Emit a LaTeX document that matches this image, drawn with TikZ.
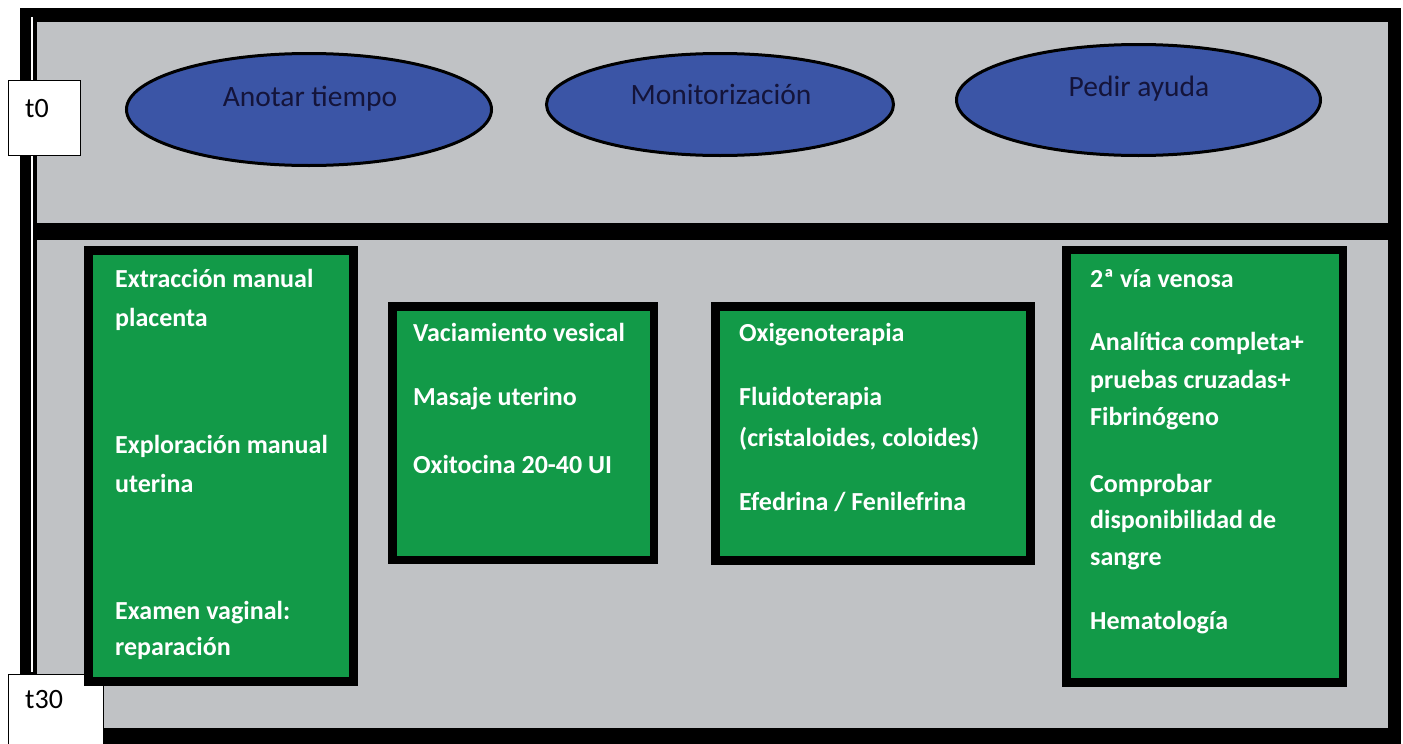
\documentclass[tikz,border=0pt]{standalone}
\usepackage{fontspec}
\setmainfont{Carlito}
\usetikzlibrary{shapes.geometric}

\definecolor{panelgray}{HTML}{C0C2C5}
\definecolor{stepblue}{HTML}{3B55A6}
\definecolor{stepgreen}{HTML}{129A48}
\definecolor{labelink}{HTML}{14143A}

\tikzset{
  panel/.style={fill=panelgray, draw=none},
  actionoval/.style={ellipse, draw=black, line width=3pt, fill=stepblue, inner sep=0pt},
  actiontext/.style={anchor=base, inner sep=0pt, text=labelink, font=\fontsize{29.5}{35}\selectfont},
  taskbox/.style={draw=black, line width=8.5pt, fill=stepgreen},
  tasktext/.style={anchor=base west, inner sep=0pt, text=white, font=\bfseries\fontsize{26}{31}\selectfont},
  timebox/.style={draw=black, line width=1pt, fill=white},
  timetext/.style={anchor=base west, inner sep=0pt, text=black, font=\fontsize{28}{33}\selectfont}
}

\begin{document}
\begin{tikzpicture}[x=1pt, y=-1pt]
\useasboundingbox (0,0) rectangle (1403,744);

% outer frame and panels
\fill[black] (20,8) rectangle (1401,744);
\fill[white] (30.5,17) rectangle (32.5,672);
\node[panel, inner sep=0pt, minimum width=1351pt, minimum height=201pt, anchor=north west] (top) at (37,22) {};
\node[panel, inner sep=0pt, minimum width=1351pt, minimum height=488pt, anchor=north west] (bottom) at (37,240) {};

% time markers
\draw[timebox] (8.5,80.5) rectangle (80,155);
\node[timetext] (t0) at (25,117) {t0};
\draw[timebox] (8.5,674.5) -- (8.5,744.5) -- (103,744.5) -- (103,674.5) -- cycle;
\node[timetext] (t30) at (25,708) {t30};

% immediate actions
\node[actionoval, minimum width=365pt, minimum height=112pt] (o1) at (309,109.5) {};
\node[actiontext] (o1t) at (310,106.5) {Anotar tiempo};
\node[actionoval, minimum width=347pt, minimum height=102pt] (o2) at (720,104.5) {};
\node[actiontext] (o2t) at (721,104) {Monitorización};
\node[actionoval, minimum width=364pt, minimum height=111pt] (o3) at (1138.5,100) {};
\node[actiontext] (o3t) at (1139,96.5) {Pedir ayuda};

% task boxes
\draw[taskbox] (88.5,250.5) rectangle (353.5,681.5);
\node[tasktext] (a1) at (115,287) {Extracción manual};
\node[tasktext] (a2) at (115,326) {placenta};
\node[tasktext] (a3) at (115,453) {Exploración manual};
\node[tasktext] (a4) at (115,492) {uterina};
\node[tasktext] (a5) at (115,619) {Examen vaginal:};
\node[tasktext] (a6) at (115,655) {reparación};

\draw[taskbox] (392.5,306.5) rectangle (654,560);
\node[tasktext] (b1) at (413,341) {Vaciamiento vesical};
\node[tasktext] (b2) at (413,405) {Masaje uterino};
\node[tasktext] (b3) at (413,473) {Oxitocina 20-40 UI};

\draw[taskbox] (715.5,306.5) rectangle (1030.5,560.3);
\node[tasktext] (c1) at (739,341) {Oxigenoterapia};
\node[tasktext] (c2) at (739,405) {Fluidoterapia};
\node[tasktext] (c3) at (739,446) {(cristaloides, coloides)};
\node[tasktext] (c4) at (739,510) {Efedrina / Fenilefrina};

\draw[taskbox] (1066.7,250) rectangle (1343,682.5);
\node[tasktext] (d1) at (1090,287) {2ª vía venosa};
\node[tasktext] (d2) at (1090,350) {Analítica completa+};
\node[tasktext] (d3) at (1090,388) {pruebas cruzadas+};
\node[tasktext] (d4) at (1090,425) {Fibrinógeno};
\node[tasktext] (d5) at (1090,492) {Comprobar};
\node[tasktext] (d6) at (1090,528) {disponibilidad de};
\node[tasktext] (d7) at (1090,565) {sangre};
\node[tasktext] (d8) at (1090,629) {Hematología};
\end{tikzpicture}
\end{document}
